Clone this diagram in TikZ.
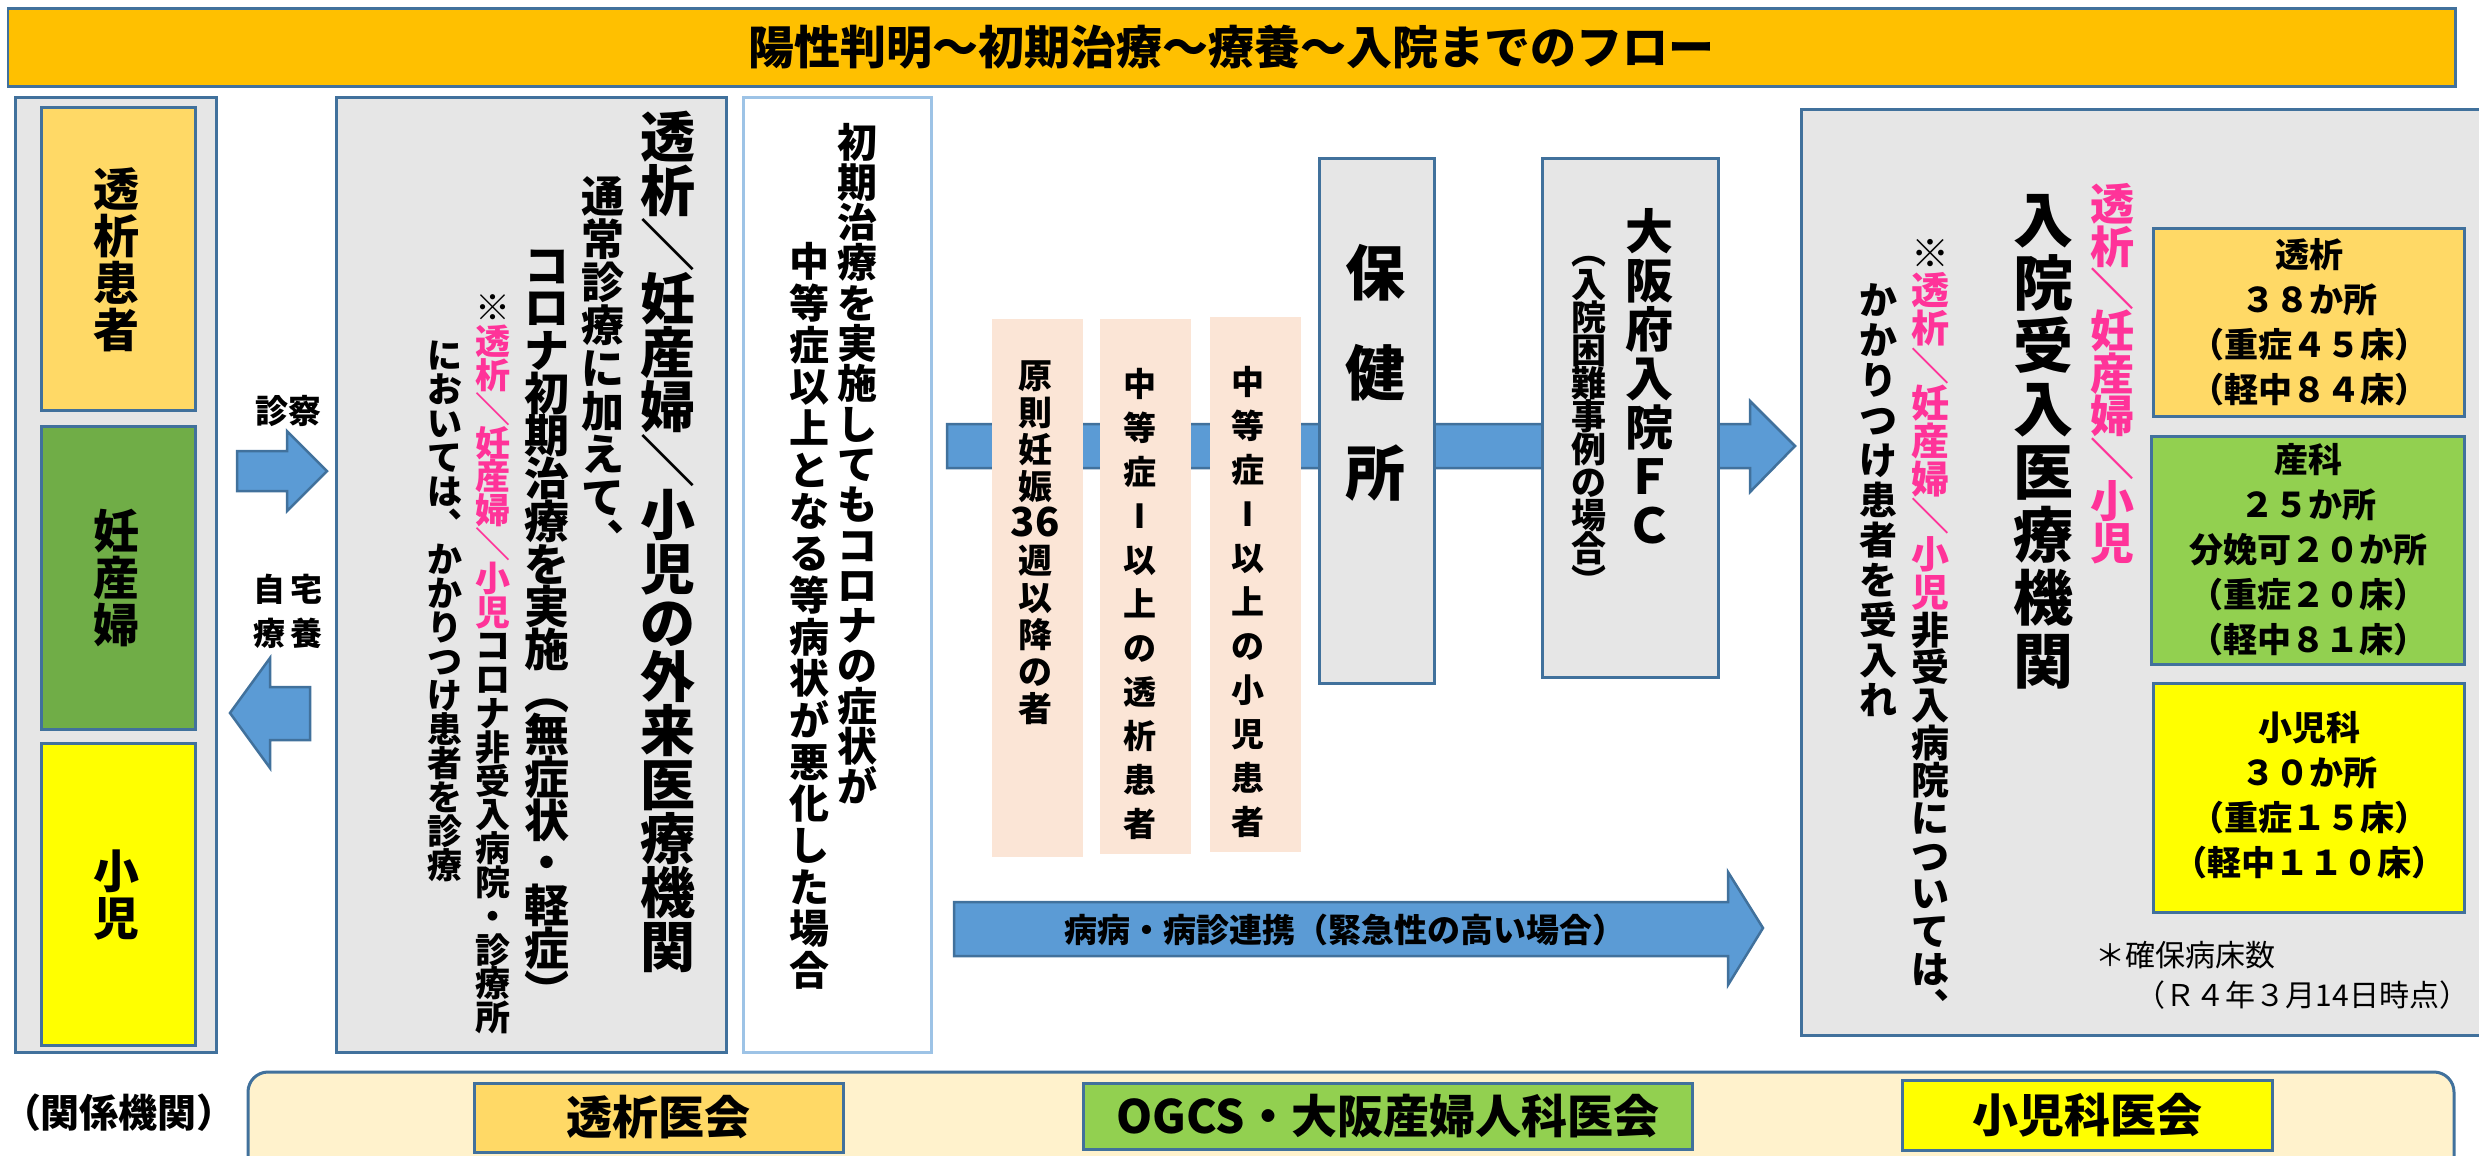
\documentclass[tikz,border=0pt]{standalone}
\usepackage{fontspec}
\setmainfont{Noto Sans CJK JP}
\newdimen\pxu \pxu=0.1mm
\newdimen\VSp
\makeatletter
\def\VS@end{\VS@end}
\def\VS@endm{\VS@end}
\def\VS#1{\VS@loop#1\VS@end}
\def\VS@loop#1{\def\VS@tmp{#1}\ifx\VS@tmp\VS@endm\expandafter\@gobble\else\expandafter\@firstofone\fi{\VS@cell{#1}\VS@loop}}
\def\VS@cell#1{\hbox to 1.2em{\hss\vbox to\VSp{\vss\hbox{\vrule height .88em depth .12em width 0pt\relax#1}\vss}\hss}}
\makeatother
\newcommand\VT[2]{\vbox{\offinterlineskip\VSp=#1\pxu\relax#2}}
\newcommand\fsz[2]{\fontsize{\the\dimexpr#1\pxu\relax}{\the\dimexpr#2\pxu\relax}\selectfont}
\definecolor{bd}{HTML}{41719C}
\definecolor{gy}{HTML}{E6E6E6}
\definecolor{ttl}{HTML}{FFC000}
\definecolor{ylo}{HTML}{FFD966}
\definecolor{grn}{HTML}{70AD47}
\definecolor{lgrn}{HTML}{92D050}
\definecolor{yel}{HTML}{FFFF00}
\definecolor{pnk}{HTML}{FBE5D6}
\definecolor{pk}{HTML}{FF3399}
\definecolor{arw}{HTML}{5B9BD5}
\definecolor{lb}{HTML}{9DC3E6}
\definecolor{cream}{HTML}{FFF2CC}
\begin{document}
\begin{tikzpicture}[x=0.1mm,y=-0.1mm,
  box/.style={draw=bd,line width=0.3mm},
  vt/.style={anchor=north,inner sep=0pt},
  arrowshape/.style={fill=arw,draw=bd,line width=0.25mm,line join=miter},
  lbl/.style={inner sep=0pt,align=center}]
\useasboundingbox (0,0) rectangle (2479,1155);
% title
\draw[box,fill=ttl] (8,8) rectangle (2455,86);
\node[lbl,font=\fsz{46}{46}\bfseries] (title) at (1231,47) {陽性判明～初期治療～療養～入院までのフロー};
% left column
\draw[box,fill=gy] (15,97) rectangle (216,1052);
\draw[box,fill=ylo] (41,107) rectangle (195,410);
\draw[box,fill=grn] (41,426) rectangle (195,729);
\draw[box,fill=yel] (41,743) rectangle (195,1045);
\node[vt,anchor=center,font=\fsz{46}{46}\bfseries] (pt1) at (116,259) {\VT{47}{\VS{透析患者}}};
\node[vt,anchor=center,font=\fsz{46}{46}\bfseries] (pt2) at (116,578) {\VT{47}{\VS{妊産婦}}};
\node[vt,anchor=center,font=\fsz{46}{46}\bfseries] (pt3) at (116,894) {\VT{47}{\VS{小児}}};
% small arrows
\draw[arrowshape] (237,451) -- (287,451) -- (287,431) -- (327,471) -- (287,511) -- (287,491) -- (237,491) -- cycle;
\draw[arrowshape] (310,687) -- (270,687) -- (270,658) -- (230,713) -- (270,768) -- (270,740) -- (310,740) -- cycle;
\node[lbl,font=\fsz{33}{33}\bfseries] (shinsatsu) at (288,411) {診察};
\node[lbl,font=\fsz{32}{44}\bfseries] (jitaku) at (288,611) {自\hspace{6\pxu}宅\\療\hspace{6\pxu}養};
% outpatient box
\draw[box,fill=gy] (336,97) rectangle (726,1052);
\node[vt,font=\fsz{55}{55}\bfseries] (c1) at (668,109) {\VT{54}{\VS{透析＼妊産婦＼小児の外来医療機関}}};
\node[vt,font=\fsz{43}{43}\bfseries] (c2) at (603,174) {\VT{43}{\VS{通常診療に加えて︑}}};
\node[vt,font=\fsz{45}{45}\bfseries] (c3) at (547,243) {\VT{42.7}{\VS{コロナ初期治療を実施︵無症状・軽症︶}}};
\node[vt,font=\fsz{35}{35}\bfseries] (c4) at (493,290) {\VT{33.8}{\VS{※}{\color{pk}\VS{透析＼妊産婦＼小児}}\VS{コロナ非受入病院・診療所}}};
\node[vt,font=\fsz{35}{35}\bfseries] (c5) at (445,337) {\VT{34}{\VS{においては︑かかりつけ患者を診療}}};
% white box
\draw[draw=lb,line width=0.3mm,fill=white] (743,97) rectangle (931,1052);
\node[vt,font=\fsz{40}{40}\bfseries] (d1) at (857,121) {\VT{40.3}{\VS{初期治療を実施してもコロナの症状が}}};
\node[vt,font=\fsz{40}{40}\bfseries] (d2) at (809,240) {\VT{41.7}{\VS{中等症以上となる等病状が悪化した場合}}};
% main arrow
\draw[arrowshape] (947,424) -- (1750,424) -- (1750,401) -- (1795,446) -- (1750,492) -- (1750,468) -- (947,468) -- cycle;
% pink boxes
\fill[pnk] (992,319) rectangle (1083,857);
\fill[pnk] (1100,319) rectangle (1191,854);
\fill[pnk] (1210,317) rectangle (1301,852);
\node[vt,font=\fsz{34}{34}\bfseries] (p1) at (1035,356) {\VT{37}{\VS{原則妊娠{\fsz{40}{40}36}週以降の者}}};
\node[vt,font=\fsz{33}{33}\bfseries] (p2) at (1140,361) {\VT{44}{\VS{中等症Ⅰ以上の透析患者}}};
\node[vt,font=\fsz{33}{33}\bfseries] (p3) at (1248,359) {\VT{44}{\VS{中等症Ⅰ以上の小児患者}}};
% health center
\draw[box,fill=gy] (1319,158) rectangle (1434,683);
\node[vt,font=\fsz{60}{60}\bfseries] (hoken) at (1375,222) {\VT{100}{\VS{保健所}}};
% FC box
\draw[box,fill=gy] (1542,158) rectangle (1718,677);
\node[vt,font=\fsz{48}{48}\bfseries] (e1) at (1649,206) {\VT{49}{\VS{大阪府入院ＦＣ}}};
\node[vt,font=\fsz{35}{35}\bfseries] (e2) at (1589,234) {\VT{33}{\VS{︵入院困難事例の場合︶}}};
% bottom arrow
\draw[arrowshape] (954,902) -- (1728,902) -- (1728,872) -- (1763,928) -- (1728,985) -- (1728,956) -- (954,956) -- cycle;
\node[lbl,font=\fsz{33}{33}\bfseries] (renkei) at (1345,930) {病病・病診連携（緊急性の高い場合）};
% hospital box
\draw[box,fill=gy] (1801,109) rectangle (2500,1035);
\node[vt,font=\fsz{44}{44}\bfseries] (f1) at (2112,182) {\VT{42.4}{\color{pk}\VS{透析＼妊産婦＼小児}}};
\node[vt,font=\fsz{60}{60}\bfseries] (f2) at (2043,187) {\VT{63}{\VS{入院受入医療機関}}};
\node[vt,font=\fsz{38}{38}\bfseries] (f3) at (1930,233) {\VT{37.7}{\VS{※}{\color{pk}\VS{透析＼妊産婦＼小児}}\VS{非受入病院については︑}}};
\node[vt,font=\fsz{38}{38}\bfseries] (f4) at (1878,279) {\VT{40}{\VS{かかりつけ患者を受入れ}}};
\draw[box,fill=ylo] (2153,228) rectangle (2464,416);
\draw[box,fill=lgrn] (2151,436) rectangle (2464,664);
\draw[box,fill=yel] (2153,683) rectangle (2464,912);
\node[lbl,font=\fsz{34}{45}\bfseries] (bed1) at (2309,322) {透析\\３８か所\\（重症４５床）\\（軽中８４床）};
\node[lbl,font=\fsz{34}{45}\bfseries] (bed2) at (2308,550) {産科\\２５か所\\分娩可２０か所\\（重症２０床）\\（軽中８１床）};
\node[lbl,font=\fsz{34}{45}\bfseries] (bed3) at (2309,795) {小児科\\３０か所\\（重症１５床）\\（軽中１１０床）};
\node[anchor=west,inner sep=0pt,font=\fsz{30}{30}] (note1) at (2095,955) {＊確保病床数};
\node[anchor=west,inner sep=0pt,font=\fsz{30}{30}] (note2) at (2135,995) {（Ｒ４年３月14日時点）};
% bottom bar
\draw[box,fill=cream,rounded corners=2mm] (248,1072) rectangle (2454,1200);
\node[lbl,font=\fsz{39}{39}\bfseries] (kankei) at (119,1113) {（関係機関）};
\draw[box,fill=ylo] (474,1083) rectangle (843,1152);
\node[lbl,font=\fsz{46}{46}\bfseries] (toseki) at (658,1117) {透析医会};
\draw[box,fill=lgrn] (1083,1083) rectangle (1692,1149);
\node[lbl,font=\fsz{46}{46}\bfseries] (ogcs) at (1388,1116) {OGCS・大阪産婦人科医会};
\draw[box,fill=yel] (1902,1080) rectangle (2272,1150);
\node[lbl,font=\fsz{46}{46}\bfseries] (shoni) at (2087,1115) {小児科医会};
\end{tikzpicture}
\end{document}
